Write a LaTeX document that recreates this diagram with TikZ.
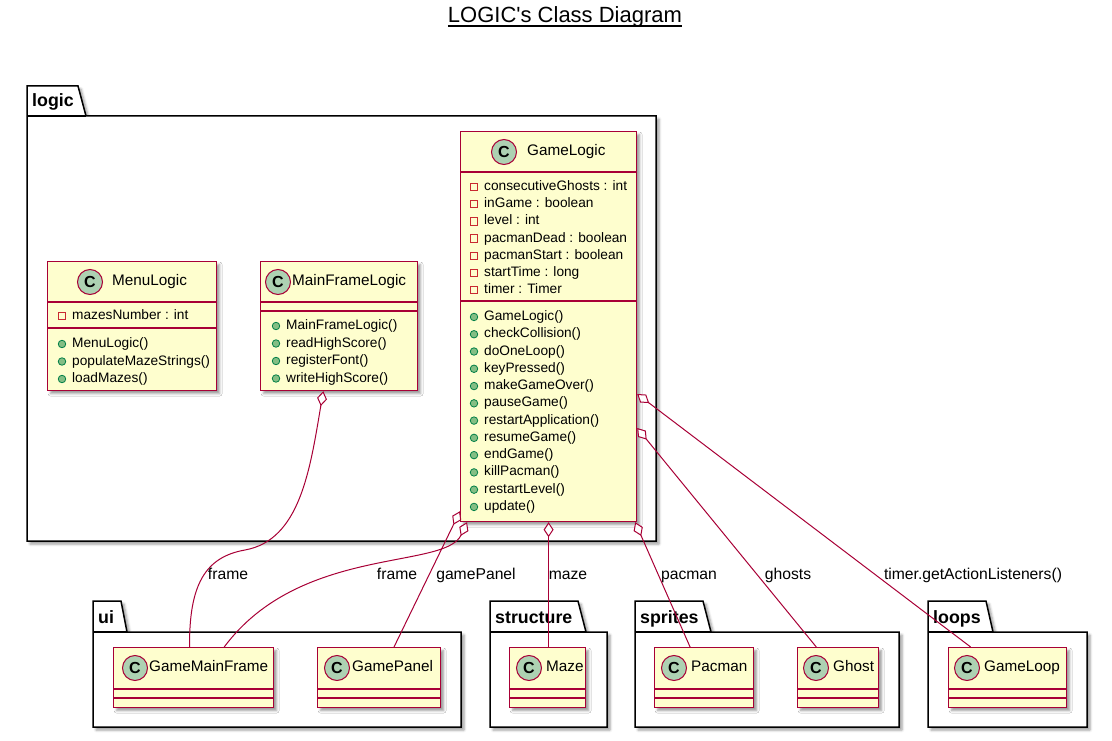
\documentclass[tikz,border=0pt]{standalone}
\usepackage{fontspec}
\setmainfont{Liberation Sans}[Ligatures=TeXOff]
\usetikzlibrary{arrows.meta,calc,shadows.blur}

\definecolor{umlred}{HTML}{A80036}
\definecolor{umlfill}{HTML}{FEFECE}
\definecolor{badgefill}{HTML}{ADD1B2}
\definecolor{privred}{HTML}{C82930}
\definecolor{pubfill}{HTML}{84BE84}
\definecolor{pubdraw}{HTML}{038048}

\tikzset{
  umlshadow/.style={blur shadow={shadow xshift=3pt, shadow yshift=-3pt, shadow blur radius=2.5pt, shadow opacity=40}},
  classbox/.style={rectangle, draw=umlred, fill=umlfill, line width=1.2pt, inner sep=0pt, anchor=north west, umlshadow},
  sepline/.style={draw=umlred, line width=1.2pt},
  badge/.style={circle, draw=umlred, fill=badgefill, line width=1pt, minimum size=25pt, inner sep=0pt, font=\bfseries\fontsize{16}{16}\selectfont},
  clsname/.style={anchor=west, inner sep=0pt, text height=11pt, text depth=3.5pt, font=\fontsize{15.3}{18}\selectfont},
  member/.style={anchor=west, inner sep=0pt, text height=10pt, text depth=3pt, font=\fontsize{13.7}{16}\selectfont},
  privicon/.style={rectangle, draw=privred, line width=0.9pt, minimum size=7.5pt, inner sep=0pt},
  pubicon/.style={circle, draw=pubdraw, fill=pubfill, line width=0.8pt, minimum size=7.5pt, inner sep=0pt},
  pkgbox/.style={draw=black, fill=white, line width=1.5pt, umlshadow},
  pkgname/.style={anchor=base west, inner sep=0pt, font=\bfseries\fontsize{17.8}{20}\selectfont},
  aggr/.style={draw=umlred, line width=1pt, arrows={Diamond[fill=white, length=15pt, width=10pt]-}},
  edgelabel/.style={anchor=base, inner sep=0pt, font=\fontsize{15.7}{18}\selectfont},
}

\begin{document}
\begin{tikzpicture}[x=1pt, y=-1pt]
\useasboundingbox (0,0) rectangle (1112,741);

% title
\node[anchor=base, inner sep=0pt, font=\fontsize{22}{26}\selectfont] (title) at (565,23) {LOGIC's Class Diagram};
\draw[line width=1.1pt] ($(title.base west)+(0,3)$) -- ($(title.base east)+(0,3)$);

% packages
\draw[pkgbox] (27,86) -- (78,86) -- (86,116) -- (656,116) -- (656,541) -- (27,541) -- cycle;
\draw[line width=1.5pt] (27,116) -- (86,116);
\node[pkgname] (logiclbl) at (32,107) {logic};

\draw[pkgbox] (93,601) -- (121,601) -- (127,632) -- (461,632) -- (461,727) -- (93,727) -- cycle;
\draw[line width=1.5pt] (93,632) -- (127,632);
\node[pkgname] (uilbl) at (98,623) {ui};

\draw[pkgbox] (490,601) -- (578,601) -- (586,632) -- (607,632) -- (607,727) -- (490,727) -- cycle;
\draw[line width=1.5pt] (490,632) -- (586,632);
\node[pkgname] (structurelbl) at (495,623) {structure};

\draw[pkgbox] (635,601) -- (703,601) -- (711,632) -- (899,632) -- (899,727) -- (635,727) -- cycle;
\draw[line width=1.5pt] (635,632) -- (711,632);
\node[pkgname] (spriteslbl) at (640,623) {sprites};

\draw[pkgbox] (928,601) -- (986,601) -- (993,632) -- (1087,632) -- (1087,727) -- (928,727) -- cycle;
\draw[line width=1.5pt] (928,632) -- (993,632);
\node[pkgname] (loopslbl) at (933,623) {loops};

% MenuLogic
\node[classbox, minimum width=169pt, minimum height=129pt] (menulogic) at (47,261) {};
\node[badge] (menulogicC) at (90,282) {C};
\node[clsname] (menulogicname) at (112,282) {MenuLogic};
\draw[sepline] (47,302) -- (216,302);
\draw[sepline] (47,328) -- (216,328);
\node[privicon] (mla1) at (62,316) {};
\node[member] (mlat1) at (72,316) {mazesNumber : int};
\foreach \m [count=\i] in {MenuLogic(), populateMazeStrings(), loadMazes()} {
  \node[pubicon] (mlm\i) at (62,326.5+17.5*\i) {};
  \node[member] (mlmt\i) at (72,326.5+17.5*\i) {\m};
}

% MainFrameLogic
\node[classbox, minimum width=157pt, minimum height=129pt] (mainframelogic) at (260,261) {};
\node[badge] (mainframelogicC) at (278,282) {C};
\node[clsname] (mainframelogicname) at (292,282) {MainFrameLogic};
\draw[sepline] (260,302) -- (417,302);
\draw[sepline] (260,311) -- (417,311);
\foreach \m [count=\i] in {MainFrameLogic(), readHighScore(), registerFont(), writeHighScore()} {
  \node[pubicon] (mflm\i) at (276,308.5+17.5*\i) {};
  \node[member] (mflmt\i) at (286,308.5+17.5*\i) {\m};
}

% GameLogic
\node[classbox, minimum width=176pt, minimum height=390pt] (gamelogic) at (460,131) {};
\node[badge] (gamelogicC) at (504,152) {C};
\node[clsname] (gamelogicname) at (527,152) {GameLogic};
\draw[sepline] (460,172) -- (636,172);
\draw[sepline] (460,301) -- (636,301);
\foreach \m [count=\i] in {consecutiveGhosts : int, inGame : boolean, level : int, pacmanDead : boolean, pacmanStart : boolean, startTime : long, timer : Timer} {
  \node[privicon] (gla\i) at (474,169.7+17.2*\i) {};
  \node[member] (glat\i) at (484,169.7+17.2*\i) {\m};
}
\foreach \m [count=\i] in {GameLogic(), checkCollision(), doOneLoop(), keyPressed(), makeGameOver(), pauseGame(), restartApplication(), resumeGame(), endGame(), killPacman(), restartLevel(), update()} {
  \node[pubicon] (glm\i) at (474,299.7+17.27*\i) {};
  \node[member] (glmt\i) at (484,299.7+17.27*\i) {\m};
}

% classes in the other packages
\foreach \n/\t/\x/\w/\cx/\tx in {gamemainframe/GameMainFrame/113/160/135/149, gamepanel/GamePanel/317/123/337/352, maze/Maze/509/76/529/546, pacman/Pacman/654/99/674/691, ghost/Ghost/797/81/816/833, gameloop/GameLoop/948/118/967/984} {
  \node[classbox, minimum width=\w pt, minimum height=60pt] (\n) at (\x,647) {};
  \node[badge] (\n-C) at (\cx,668) {C};
  \node[clsname] (\n-name) at (\tx,668) {\t};
  \draw[sepline] (\x,689) -- (\x+\w,689);
  \draw[sepline] (\x,698) -- (\x+\w,698);
}

% aggregations
\draw[aggr] ($(mainframelogic.south west)!0.4!(mainframelogic.south east)$) .. controls (310,470) and (300,540) .. (245,550) .. controls (205,557) and (189,585) .. ($(gamemainframe.north west)!0.475!(gamemainframe.north east)$);
\draw[aggr] ($(gamelogic.south west)+(7,0)$) .. controls (445,570) and (300,545) .. ($(gamemainframe.north west)!0.69!(gamemainframe.north east)$);
\draw[aggr] ($(gamelogic.south west)+(0,-11)$) -- ($(gamepanel.north west)!0.62!(gamepanel.north east)$);
\draw[aggr] (gamelogic.south) -- (gamelogic.south |- maze.north);
\draw[aggr] ($(gamelogic.south east)+(-2,0)$) -- ($(pacman.north west)!0.36!(pacman.north east)$);
\draw[aggr] ($(gamelogic.north east)+(0,297)$) -- ($(ghost.north west)!0.235!(ghost.north east)$);
\draw[aggr] ($(gamelogic.north east)+(0,263)$) -- ($(gameloop.north west)!0.19!(gameloop.north east)$);

% role labels
\node[edgelabel] (lblframeA) at (228,579) {frame};
\node[edgelabel] (lblframeB) at (397,579) {frame};
\node[edgelabel] (lblgamepanel) at (476,579) {gamePanel};
\node[edgelabel] (lblmaze) at (568,579) {maze};
\node[edgelabel] (lblpacman) at (689,579) {pacman};
\node[edgelabel] (lblghosts) at (788,579) {ghosts};
\node[edgelabel] (lbltimer) at (973,579) {timer.getActionListeners()};
\end{tikzpicture}
\end{document}
